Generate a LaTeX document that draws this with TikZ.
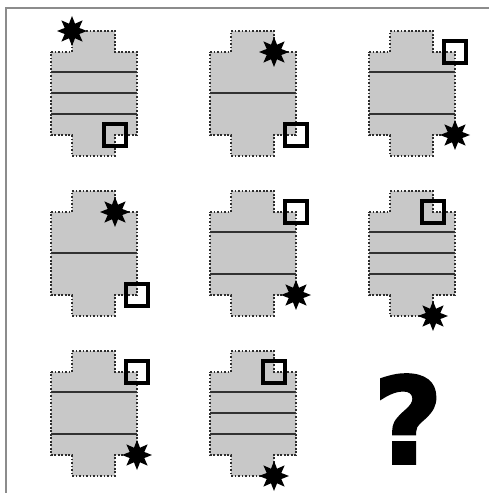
\documentclass[tikz,border=0pt]{standalone}
\usepackage{fontspec}
\newfontfamily\askfont{DejaVu Sans}[BoldFeatures={FakeBold=2.5}]
\definecolor{TileGray}{RGB}{200,200,200}
\definecolor{DotGray}{RGB}{45,45,45}
\definecolor{StripeGray}{RGB}{50,50,50}
\definecolor{FrameGray}{RGB}{140,140,140}
\usetikzlibrary{shapes.geometric, positioning}

\tikzset{
  tileshape/.style={fill=TileGray, draw=DotGray, densely dotted, line width=1pt},
  stripe/.style={draw=StripeGray, line width=1pt},
  starmark/.style={star, star points=8, star point ratio=1.9, fill=black,
                   inner sep=0pt, minimum size=0.6cm},
  boxmark/.style={draw=black, line width=2pt, inner sep=0pt, minimum size=0.44cm},
  pics/tile/.style={code={
    \path[tileshape] (0,0) -- (21,0) -- (21,-21) -- (64,-21) -- (64,0) -- (86,0)
      -- (86,83) -- (64,83) -- (64,104) -- (21,104) -- (21,83) -- (0,83) -- cycle;
    \coordinate (-tabtl) at (21,-21);
    \coordinate (-innertr) at (64,0);
    \coordinate (-bodytr) at (86,0);
    \coordinate (-bodybr) at (86,83);
    \coordinate (-innerbr) at (64,83);
    \coordinate (-tabbr) at (64,104);
  }}
}

\begin{document}
\begin{tikzpicture}[x=0.02cm, y=-0.02cm]
  \fill[white] (0,0) rectangle (489,493);
  \useasboundingbox (0,0) rectangle (489,493);
  % frame
  \draw[FrameGray, line width=0.6pt] (6,493) -- (6,8) -- (489,8);

  % the eight tiles: origin / stripes / star / box
  \foreach \cx/\cy/\stripes/\starat/\boxat [count=\i] in
    {51/52/{20,41,62}/tabtl/innerbr,
     210/52/{41}/innertr/bodybr,
     369/52/{20,62}/bodybr/bodytr,
     51/212/{41}/innertr/bodybr,
     210/212/{20,62}/bodybr/bodytr,
     369/212/{20,41,62}/tabbr/innertr,
     51/372/{20,62}/bodybr/bodytr,
     210/372/{20,41,62}/tabbr/innertr}
  {
    \pic (t\i) at (\cx,\cy) {tile};
    \foreach \s in \stripes
      \draw[stripe] (\cx,\cy+\s) -- (\cx+86,\cy+\s);
    \node[boxmark] (box\i) at (t\i-\boxat) {};
    \node[starmark] (star\i) at (t\i-\starat) {};
  }

  \node[inner sep=0pt, font=\askfont\bfseries\fontsize{68}{68}\selectfont]
    (ask) at (408,419) {?};
\end{tikzpicture}
\end{document}
